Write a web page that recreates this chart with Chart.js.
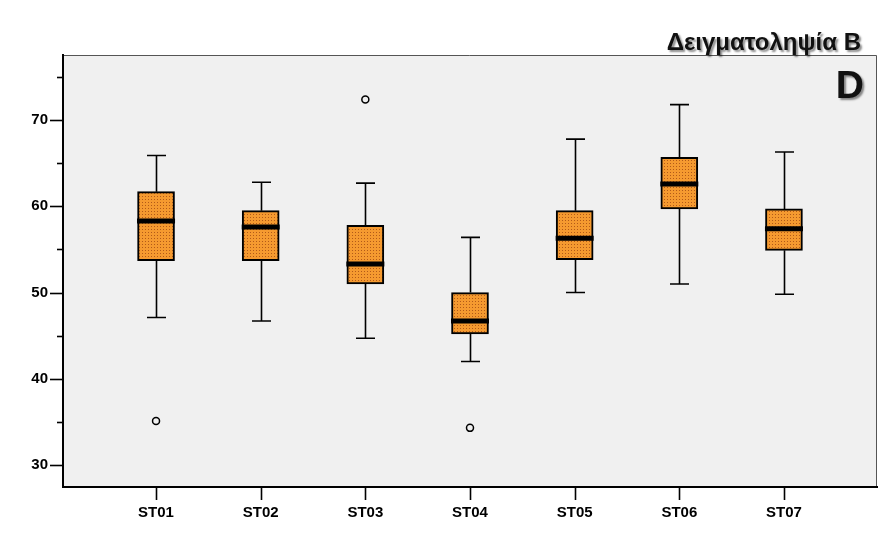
<!DOCTYPE html>
<html>
<head>
<meta charset="utf-8">
<script src="https://cdn.jsdelivr.net/npm/chart.js@4/dist/chart.umd.min.js"></script>
<style>
html,body{margin:0;padding:0;background:#fff;}
#wrap{width:887px;height:538px;position:relative;}
</style>
</head>
<body>
<div id="wrap"><canvas id="c" width="887" height="538"></canvas></div>
<script>
const categories = ['ST01','ST02','ST03','ST04','ST05','ST06','ST07'];
const whiskerLow  = [47.1, 46.7, 44.7, 42.0, 50.0, 51.0, 49.8];
const q1          = [53.7, 53.7, 51.0, 45.2, 53.8, 59.7, 54.9];
const median      = [58.3, 57.6, 53.3, 46.7, 56.3, 62.6, 57.4];
const q3          = [61.7, 59.5, 57.8, 50.0, 59.5, 65.7, 59.7];
const whiskerHigh = [65.9, 62.8, 62.7, 56.4, 67.8, 71.8, 66.3];
const outlierCat  = [0, 2, 3];
const outlierVal  = [35.1, 72.4, 34.3];
const yTicks      = [30, 35, 40, 45, 50, 55, 60, 65, 70, 75];
const titleText   = 'Δειγματοληψία Β';
const panelText   = 'D';

const FONT = "'Liberation Sans', Arial, Helvetica, sans-serif";

// dotted orange fill pattern
function makePattern() {
  const p = document.createElement('canvas');
  p.width = 3; p.height = 3;
  const g = p.getContext('2d');
  g.fillStyle = '#f59a30';
  g.fillRect(0, 0, 3, 3);
  g.fillStyle = '#b25a18';
  g.fillRect(1, 1, 1, 1);
  return document.getElementById('c').getContext('2d').createPattern(p, 'repeat');
}
const boxFill = makePattern();

const boxData = categories.map((c, i) => ({ x: i, y: [q1[i], q3[i]] }));
const outData = outlierCat.map((c, i) => ({ x: c, y: outlierVal[i] }));

const boxPlugin = {
  id: 'boxPlugin',
  beforeDraw(chart) {
    const { ctx, chartArea: a } = chart;
    ctx.save();
    ctx.fillStyle = '#f0f0f0';
    ctx.fillRect(a.left, a.top, a.right - a.left, a.bottom - a.top);
    ctx.strokeStyle = '#555';
    ctx.lineWidth = 1;
    ctx.beginPath();
    ctx.moveTo(a.left, a.top + 0.5);
    ctx.lineTo(a.right - 0.5, a.top + 0.5);
    ctx.lineTo(a.right - 0.5, a.bottom);
    ctx.stroke();
    ctx.restore();
  },
  beforeDatasetsDraw(chart) {
    const { ctx } = chart;
    const xs = chart.scales.x, ys = chart.scales.y;
    ctx.save();
    ctx.strokeStyle = '#000';
    ctx.lineWidth = 1.6;
    categories.forEach((c, i) => {
      const x = Math.round(xs.getPixelForValue(i)) + 0.5;
      const yl = ys.getPixelForValue(whiskerLow[i]);
      const yh = ys.getPixelForValue(whiskerHigh[i]);
      const yq1 = ys.getPixelForValue(q1[i]);
      const yq3 = ys.getPixelForValue(q3[i]);
      ctx.beginPath();
      ctx.moveTo(x, yh); ctx.lineTo(x, yq3);
      ctx.moveTo(x, yq1); ctx.lineTo(x, yl);
      ctx.moveTo(x - 9.5, yh); ctx.lineTo(x + 9.5, yh);
      ctx.moveTo(x - 9.5, yl); ctx.lineTo(x + 9.5, yl);
      ctx.stroke();
    });
    ctx.restore();
  },
  afterDatasetsDraw(chart) {
    const { ctx, chartArea: a } = chart;
    const xs = chart.scales.x, ys = chart.scales.y;
    ctx.save();
    ctx.strokeStyle = '#000';
    ctx.lineWidth = 5;
    categories.forEach((c, i) => {
      const x = xs.getPixelForValue(i);
      const y = ys.getPixelForValue(median[i]);
      ctx.beginPath();
      ctx.moveTo(x - 19, y); ctx.lineTo(x + 19, y);
      ctx.stroke();
    });
    ctx.lineWidth = 1.6;
    yTicks.forEach(v => {
      const y = Math.round(ys.getPixelForValue(v)) + 0.5;
      const len = (v % 10 === 0) ? 13 : 6;
      ctx.beginPath();
      ctx.moveTo(a.left - len, y); ctx.lineTo(a.left, y);
      ctx.stroke();
    });
    categories.forEach((c, i) => {
      const x = Math.round(xs.getPixelForValue(i)) + 0.5;
      ctx.beginPath();
      ctx.moveTo(x, a.bottom); ctx.lineTo(x, a.bottom + 13);
      ctx.stroke();
    });
    ctx.shadowColor = 'rgba(0,0,0,0.45)';
    ctx.shadowOffsetX = 2;
    ctx.shadowOffsetY = 2;
    ctx.shadowBlur = 2;
    ctx.fillStyle = '#111';
    ctx.textAlign = 'right';
    ctx.textBaseline = 'alphabetic';
    ctx.font = 'bold 24px ' + FONT;
    ctx.fillText(titleText, 861, 50);
    ctx.font = 'bold 39px ' + FONT;
    ctx.fillText(panelText, 864, 98);
    ctx.restore();
  }
};

new Chart(document.getElementById('c'), {
  type: 'bar',
  data: {
    datasets: [
      {
        type: 'bar',
        data: boxData,
        backgroundColor: boxFill,
        borderColor: '#000',
        borderWidth: 2,
        borderSkipped: false,
        barThickness: 37,
        order: 2
      },
      {
        type: 'scatter',
        data: outData,
        pointStyle: 'circle',
        pointRadius: 3.5,
        pointBackgroundColor: '#f0f0f0',
        pointBorderColor: '#000',
        pointBorderWidth: 1.5,
        order: 1
      }
    ]
  },
  options: {
    responsive: false,
    animation: false,
    events: [],
    layout: { padding: { top: 55, right: 10, left: 0, bottom: 0 } },
    plugins: { legend: { display: false }, tooltip: { enabled: false }, title: { display: false } },
    scales: {
      x: {
        type: 'linear',
        min: -0.889,
        max: 6.889,
        offset: false,
        afterBuildTicks: s => { s.ticks = categories.map((c, i) => ({ value: i })); },
        afterFit: s => { s.height = 51; },
        grid: { display: false, drawTicks: false },
        border: { display: true, color: '#000', width: 2 },
        ticks: {
          autoSkip: false,
          maxRotation: 0,
          padding: 17,
          color: '#000',
          font: { family: FONT, size: 15, weight: 'bold' },
          callback: v => categories[v] ?? ''
        }
      },
      y: {
        type: 'linear',
        min: 27.44,
        max: 77.56,
        afterBuildTicks: s => { s.ticks = yTicks.map(v => ({ value: v })); },
        afterFit: s => { s.width = 63; },
        grid: { display: false, drawTicks: false },
        border: { display: true, color: '#000', width: 2 },
        ticks: {
          autoSkip: false,
          padding: 15,
          color: '#000',
          font: { family: FONT, size: 15, weight: 'bold' },
          callback: v => (v % 10 === 0 ? String(v) : '')
        }
      }
    }
  },
  plugins: [boxPlugin]
});
</script>
</body>
</html>
